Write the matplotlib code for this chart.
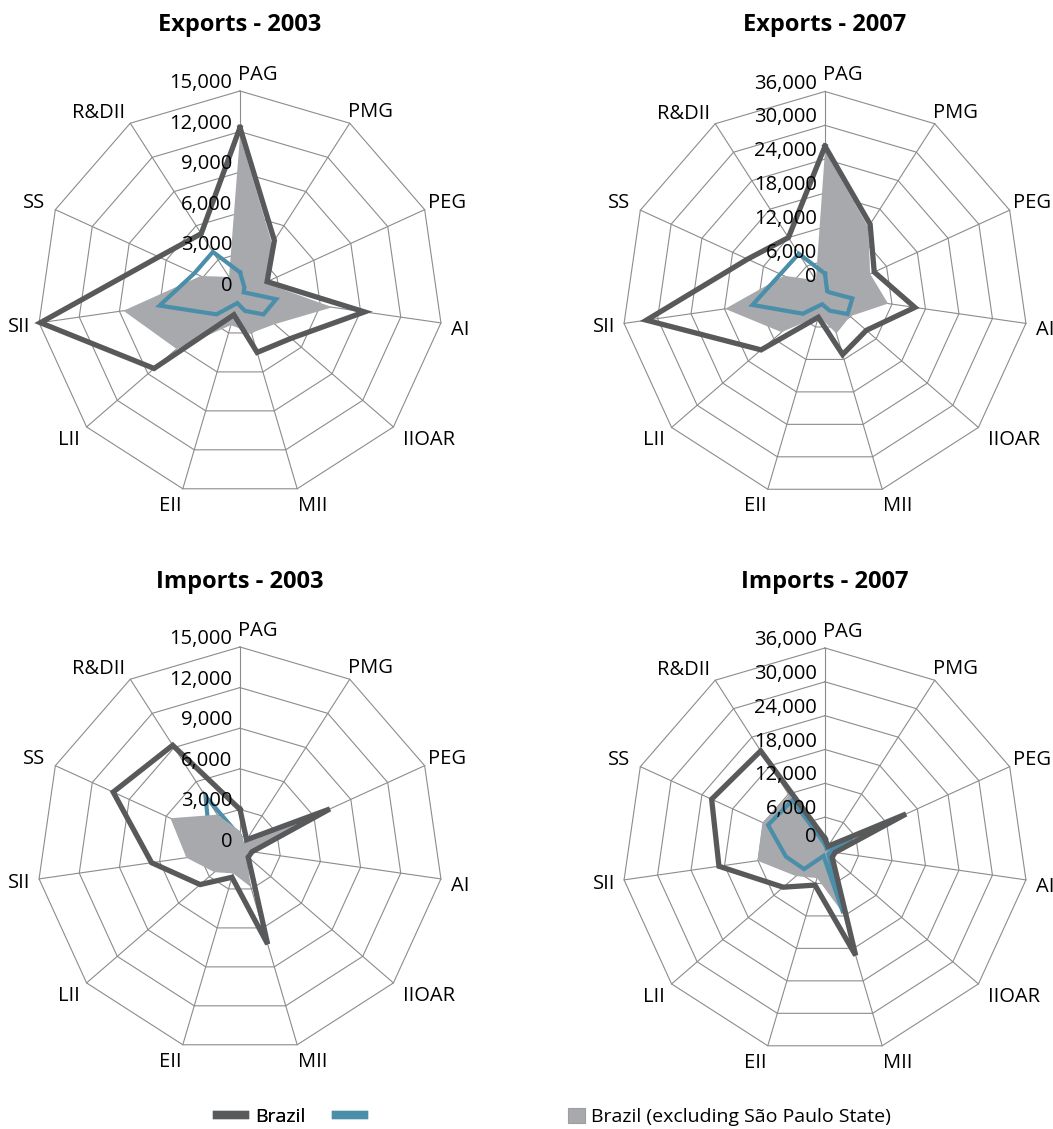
#!/usr/bin/env python

import matplotlib
matplotlib.use("Agg")
import matplotlib.pyplot as plt
import numpy as np
from matplotlib.lines import Line2D
from matplotlib.patches import Patch

plt.rcParams["font.family"] = ["Open Sans", "DejaVu Sans"]

W, H = 1053, 1129

categories = ["PAG", "PMG", "PEG", "AI", "IIOAR", "MII", "EII", "LII", "SII", "SS", "R&DII"]

# Exports 2003
exp03_brazil = [12300, 4700, 2200, 9300, 5000, 4500, 1600, 8400, 14900, 6600, 5300]
exp03_excl_sp = [11700, 4400, 2000, 6900, 3400, 3000, 2400, 6200, 8700, 3200, 1500]
exp03_blue = [1600, 600, 300, 2700, 2300, 1300, 700, 2300, 6000, 3700, 3700]

# Exports 2007
exp07_brazil = [26300, 14800, 9600, 16100, 9700, 11100, 4200, 15000, 32000, 15100, 12000]
exp07_excl_sp = [25500, 14200, 8800, 11300, 5900, 7200, 4000, 10200, 17900, 8000, 3000]
exp07_blue = [3700, 700, 900, 4900, 5300, 3000, 1800, 5200, 13000, 8700, 8600]

# Imports 2003
imp03_brazil = [3000, 900, 7300, 900, 800, 7250, 2100, 3900, 6600, 10300, 9200]
imp03_excl_sp = [1400, 600, 6800, 700, 600, 2850, 1800, 2500, 4000, 5650, 3100]
imp03_blue = [1000, 300, 3000, 400, 300, 1500, 800, 1500, 2500, 2500, 4700]

# Imports 2007
imp07_brazil = [2200, 1000, 15800, 1800, 1700, 19300, 6300, 9800, 19000, 22100, 21100]
imp07_excl_sp = [2000, 800, 13500, 1500, 1500, 11600, 5000, 6800, 12100, 12200, 11800]
imp07_blue = [1200, 500, 5300, 1000, 800, 11500, 900, 4900, 7000, 11100, 10700]

ticks_03 = [0, 3000, 6000, 9000, 12000, 15000]
ticks_07 = [0, 6000, 12000, 18000, 24000, 30000, 36000]

DARK = "#58595b"
BLUE = "#4a8eaa"
GREY = "#a7a9ac"
GRID = "#8c8c8c"

# label offsets from the outer vertex, in pixels (dx, dy down), and alignment
label_pos = [
    (-2, -16, "left"), (-2, -11, "left"), (3, -7, "left"), (10, 7, "left"),
    (10, 13, "left"), (1, 17, "left"), (-1, 17, "right"), (-7, 13, "right"),
    (-9, 4, "right"), (-10, -7, "right"), (-5, -10, "right"),
]

fig = plt.figure(figsize=(W / 100, H / 100), dpi=100)
px = 72 / 100
FS = 14.5


def radar(cx, cy, R, ticks, title, title_y, brazil, excl, blue, blue_under=False, zero_up=8):
    ax = fig.add_axes([(cx - R) / W, 1 - (cy + R) / H, 2 * R / W, 2 * R / H],
                      projection="polar")
    ax.set_theta_offset(np.pi / 2)
    ax.set_theta_direction(-1)
    rmax = ticks[-1]
    ax.set_ylim(0, rmax)
    ax.grid(False)
    ax.set_xticks([])
    ax.set_yticks([])
    ax.spines["polar"].set_visible(False)
    ax.patch.set_visible(False)

    n = len(categories)
    ang = np.arange(n) * 2 * np.pi / n
    th = np.append(ang, ang[0])

    for t in ticks[1:]:
        ax.plot(th, [t] * (n + 1), color=GRID, lw=0.8, zorder=1, clip_on=False)
    for a in ang:
        ax.plot([a, a], [0, rmax], color=GRID, lw=0.8, zorder=1, clip_on=False)

    close = lambda v: np.append(v, v[0])
    ax.fill(th, close(excl), color=GREY, lw=0, zorder=3)
    ax.plot(th, close(blue), color=BLUE, lw=3.0, zorder=2 if blue_under else 4,
            solid_joinstyle="miter", clip_on=False)
    ax.plot(th, close(brazil), color=DARK, lw=3.8, zorder=5,
            solid_joinstyle="miter", clip_on=False)

    for t in ticks:
        up = zero_up if t == 0 else 8
        ax.annotate(f"{t:,}", xy=(0, t), xytext=(-8 * px, up * px),
                    textcoords="offset points", ha="right", va="center",
                    fontsize=FS, color="black", zorder=10)

    for a, lab, (dx, dy, ha) in zip(ang, categories, label_pos):
        ax.annotate(lab, xy=(a, rmax), xytext=(dx * px, -dy * px),
                    textcoords="offset points", ha=ha, va="center",
                    fontsize=FS, color="black", annotation_clip=False)

    fig.text(cx / W, 1 - title_y / H, title, ha="center", va="baseline",
             fontsize=17, fontweight="bold")


radar(240, 294, 203, ticks_03, "Exports - 2003", 31, exp03_brazil, exp03_excl_sp, exp03_blue)
radar(825, 294.5, 203, ticks_07, "Exports - 2007", 31, exp07_brazil, exp07_excl_sp, exp07_blue,
      zero_up=17)
radar(240, 850, 203, ticks_03, "Imports - 2003", 588, imp03_brazil, imp03_excl_sp, imp03_blue,
      blue_under=True)
radar(825, 851, 203, ticks_07, "Imports - 2007", 588, imp07_brazil, imp07_excl_sp, imp07_blue,
      zero_up=14)

fs = 14
leg1 = fig.legend(handles=[Line2D([], [], color=DARK, lw=6), Line2D([], [], color=BLUE, lw=6)],
                  labels=["Brazil", ""], ncol=2, frameon=False, loc="center left",
                  bbox_to_anchor=(217 / W, 1 - 1117 / H), borderpad=0, borderaxespad=0,
                  handlelength=1.45, handletextpad=0.5, columnspacing=1.6, fontsize=fs)
fig.add_artist(leg1)
fig.legend(handles=[Patch(facecolor=GREY, edgecolor="#9c9ea1", lw=0.8)],
           labels=["Brazil (excluding São Paulo State)"], frameon=False, loc="center left",
           bbox_to_anchor=(568 / W, 1 - 1117 / H), borderpad=0, borderaxespad=0,
           handlelength=0.85, handleheight=0.85, handletextpad=0.35, fontsize=fs)

fig.savefig("out.png", dpi=100)
